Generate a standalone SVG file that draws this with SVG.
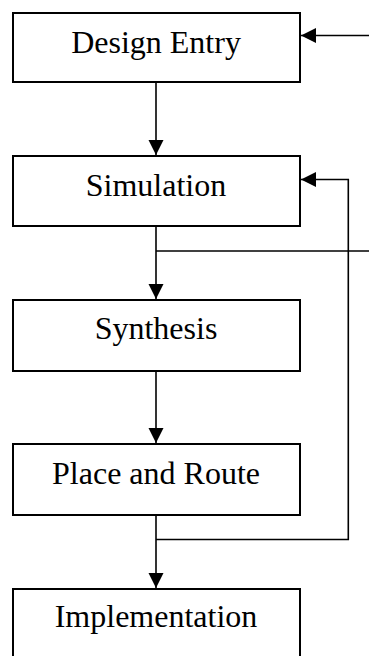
<svg xmlns="http://www.w3.org/2000/svg" width="369" height="656" viewBox="0 0 369 656">
  <style>
    .box { fill: #ffffff; stroke: #000000; stroke-width: 2; }
    .label { font-family: "Liberation Serif", "Times New Roman", serif; font-size: 32px; fill: #000000; text-anchor: middle; }
    .wire { fill: none; stroke: #000000; stroke-width: 1.6; }
  </style>
  <defs>
    <marker id="arrow" markerUnits="userSpaceOnUse" markerWidth="16" markerHeight="16" viewBox="0 0 16 16" refX="15" refY="8" orient="auto">
      <path d="M0,0.5 L15,8 L0,15.5 Z" fill="#000000"/>
    </marker>
  </defs>

  <rect width="369" height="656" fill="#ffffff"/>

  <g id="design-entry">
    <rect class="box" x="13" y="13" width="287" height="69"/>
    <text class="label" x="156" y="53">Design Entry</text>
  </g>

  <g id="simulation">
    <rect class="box" x="13" y="156" width="287" height="70"/>
    <text class="label" x="156" y="196">Simulation</text>
  </g>

  <g id="synthesis">
    <rect class="box" x="13" y="300" width="287" height="71"/>
    <text class="label" x="156" y="339">Synthesis</text>
  </g>

  <g id="place-and-route">
    <rect class="box" x="13" y="444" width="287" height="71"/>
    <text class="label" x="156" y="484">Place and Route</text>
  </g>

  <g id="implementation">
    <rect class="box" x="13" y="589" width="287" height="80"/>
    <text class="label" x="156" y="627">Implementation</text>
  </g>

  <g id="connectors">
    <!-- incoming from the right into Design Entry -->
    <line class="wire" x1="369" y1="35.5" x2="301" y2="35.5" marker-end="url(#arrow)"/>
    <!-- main flow -->
    <line class="wire" x1="156" y1="83" x2="156" y2="155" marker-end="url(#arrow)"/>
    <line class="wire" x1="156" y1="227" x2="156" y2="299" marker-end="url(#arrow)"/>
    <line class="wire" x1="156" y1="372" x2="156" y2="443" marker-end="url(#arrow)"/>
    <line class="wire" x1="156" y1="516" x2="156" y2="588" marker-end="url(#arrow)"/>
    <!-- branch out to the right after Simulation -->
    <line class="wire" x1="156" y1="251" x2="369" y2="251"/>
    <!-- feedback from Place and Route back to Simulation -->
    <polyline class="wire" points="156,539.5 348.3,539.5 348.3,179.5 301,179.5" marker-end="url(#arrow)"/>
  </g>
</svg>
